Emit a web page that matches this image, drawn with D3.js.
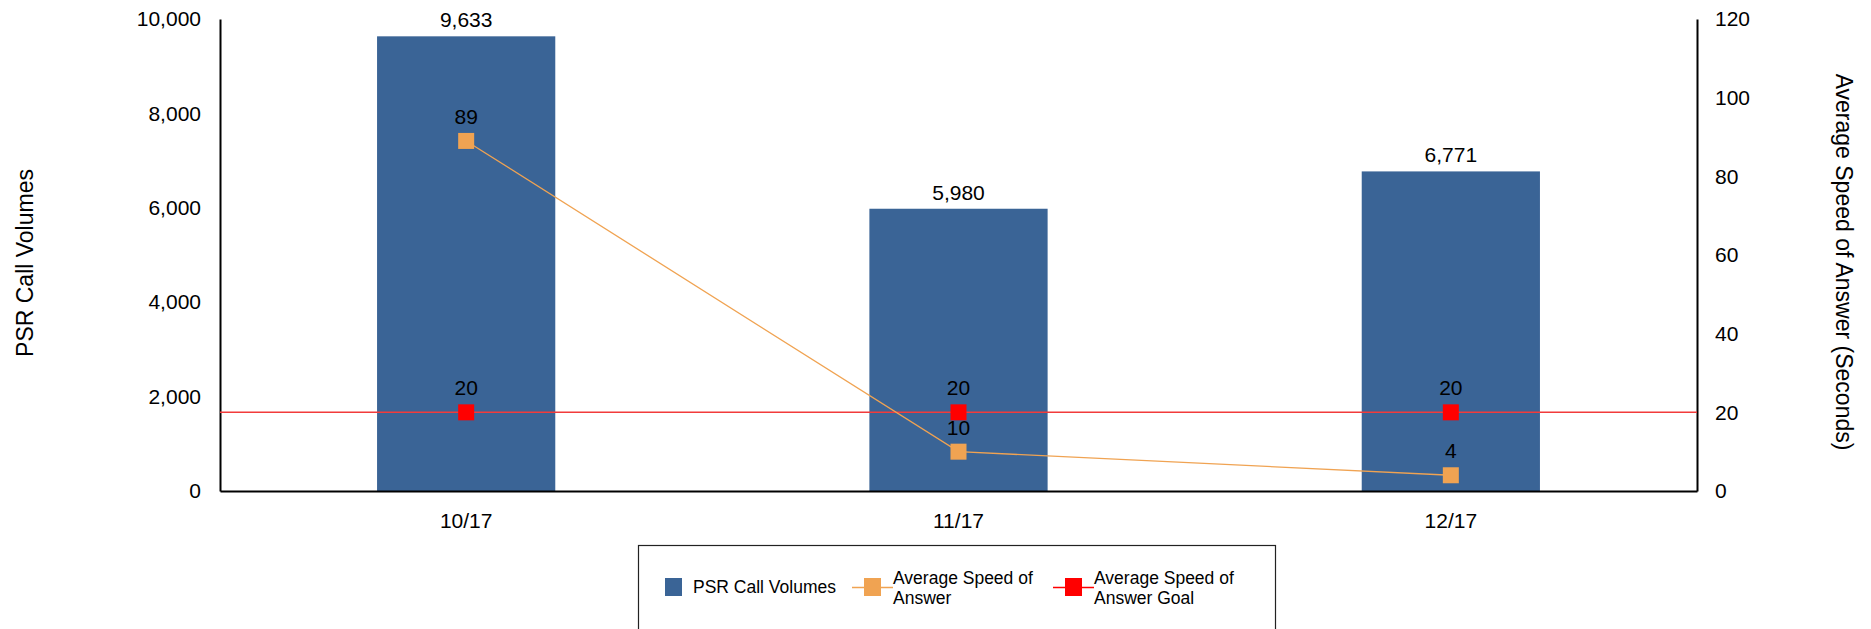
<!DOCTYPE html>
<html>
<head>
<meta charset="utf-8">
<script src="https://cdn.jsdelivr.net/npm/d3@7"></script>
<style>
  html, body { margin: 0; padding: 0; background: #fff; }
  svg { display: block; font-family: "Liberation Sans", Arial, sans-serif; }
</style>
</head>
<body>
<svg id="chart" width="1871" height="629"></svg>
<script>
// Monthly PSR call volumes with average speed of answer (seconds) vs. goal
const months = ["10/17", "11/17", "12/17"];
const callVolumes = [9633, 5980, 6771];
const avgSpeed = [89, 10, 4];
const speedGoal = [20, 20, 20];
const leftTicks = [0, 2000, 4000, 6000, 8000, 10000];
const rightTicks = [0, 20, 40, 60, 80, 100, 120];

const svg = d3.select("#chart");
const plot = { left: 220, right: 1697, top: 19, bottom: 491 };

const x = d3.scaleBand().domain(months).range([plot.left, plot.right]).padding(0);
const yLeft = d3.scaleLinear().domain([0, 10000]).range([plot.bottom, plot.top]);
const yRight = d3.scaleLinear().domain([0, 120]).range([plot.bottom, plot.top]);

const barW = x.bandwidth() * 0.362;
const cx = d => x(d) + x.bandwidth() / 2;
const fmt = d3.format(",");

const colors = { bar: "#3A6496", speed: "#F0A352", goal: "#FF0000", goalLine: "#F23B3B" };

// Bars
svg.append("g").selectAll("rect").data(months).join("rect")
  .attr("x", d => cx(d) - barW / 2)
  .attr("width", barW)
  .attr("y", (d, i) => yLeft(callVolumes[i]))
  .attr("height", (d, i) => plot.bottom - yLeft(callVolumes[i]))
  .attr("fill", colors.bar);

// Bar value labels
svg.append("g").selectAll("text").data(months).join("text")
  .attr("x", d => cx(d))
  .attr("y", (d, i) => yLeft(callVolumes[i]) - 9)
  .attr("text-anchor", "middle")
  .attr("font-size", 21)
  .attr("fill", "#000")
  .text((d, i) => fmt(callVolumes[i]));

// Axes (lines only, no tick marks)
const leftAxis = d3.axisLeft(yLeft).tickValues(leftTicks).tickFormat(fmt).tickSize(0).tickPadding(19);
const rightAxis = d3.axisRight(yRight).tickValues(rightTicks).tickSize(0).tickPadding(18);
const bottomAxis = d3.axisBottom(x).tickSize(0).tickPadding(22);

function styleAxis(g) {
  g.select(".domain").attr("stroke", "#000").attr("stroke-width", 2);
  g.selectAll("text").attr("font-size", 21).attr("fill", "#000")
    .attr("font-family", "'Liberation Sans', Arial, sans-serif");
}

svg.append("g").attr("transform", `translate(${plot.left},0)`).call(leftAxis).call(styleAxis);
svg.append("g").attr("transform", `translate(${plot.right},0)`).call(rightAxis).call(styleAxis);
svg.append("g").attr("transform", `translate(0,${plot.bottom})`).call(bottomAxis).call(styleAxis);

// Goal reference line across the plot
svg.append("line")
  .attr("x1", plot.left).attr("x2", plot.right)
  .attr("y1", yRight(speedGoal[0])).attr("y2", yRight(speedGoal[0]))
  .attr("stroke", colors.goalLine).attr("stroke-width", 1.5);

// Average speed line
svg.append("path")
  .datum(avgSpeed)
  .attr("fill", "none")
  .attr("stroke", colors.speed)
  .attr("stroke-width", 1.3)
  .attr("d", d3.line().x((d, i) => cx(months[i])).y(d => yRight(d)));

const mk = 16;
function markers(values, color) {
  const g = svg.append("g");
  g.selectAll("rect").data(values).join("rect")
    .attr("x", (d, i) => cx(months[i]) - mk / 2)
    .attr("y", d => yRight(d) - mk / 2)
    .attr("width", mk).attr("height", mk)
    .attr("fill", color);
  g.selectAll("text").data(values).join("text")
    .attr("x", (d, i) => cx(months[i]))
    .attr("y", d => yRight(d) - 17)
    .attr("text-anchor", "middle")
    .attr("font-size", 21)
    .attr("fill", "#000")
    .text(d => d);
}
markers(speedGoal, colors.goal);
markers(avgSpeed, colors.speed);

// Axis titles
svg.append("text")
  .attr("transform", "translate(33,263) rotate(-90)")
  .attr("text-anchor", "middle")
  .attr("font-size", 23)
  .attr("fill", "#000")
  .text("PSR Call Volumes");

svg.append("text")
  .attr("transform", "translate(1836,262) rotate(90)")
  .attr("text-anchor", "middle")
  .attr("font-size", 23)
  .attr("fill", "#000")
  .text("Average Speed of Answer (Seconds)");

// Legend
const legend = svg.append("g");
legend.append("rect")
  .attr("x", 638.5).attr("y", 545.5).attr("width", 637).attr("height", 120)
  .attr("fill", "#fff").attr("stroke", "#222").attr("stroke-width", 1.2);

const legendItems = [
  { kind: "bar", color: colors.bar, x: 665, lines: ["PSR Call Volumes"] },
  { kind: "line", color: colors.speed, x: 852, lines: ["Average Speed of", "Answer"] },
  { kind: "line", color: colors.goal, x: 1053, lines: ["Average Speed of", "Answer Goal"] }
];

legendItems.forEach(item => {
  const g = legend.append("g");
  if (item.kind === "bar") {
    g.append("rect").attr("x", item.x).attr("y", 578).attr("width", 17).attr("height", 18).attr("fill", item.color);
    g.append("text").attr("x", item.x + 28).attr("y", 593)
      .attr("font-size", 17.5).attr("fill", "#000")
      .text(item.lines[0]);
  } else {
    g.append("line").attr("x1", item.x).attr("x2", item.x + 41).attr("y1", 587.5).attr("y2", 587.5)
      .attr("stroke", item.color).attr("stroke-width", 1.3);
    g.append("rect").attr("x", item.x + 12).attr("y", 578).attr("width", 17).attr("height", 18).attr("fill", item.color);
    item.lines.forEach((t, j) => {
      g.append("text").attr("x", item.x + 41).attr("y", 584 + j * 20)
        .attr("font-size", 17.5).attr("fill", "#000")
        .text(t);
    });
  }
});
</script>
</body>
</html>
